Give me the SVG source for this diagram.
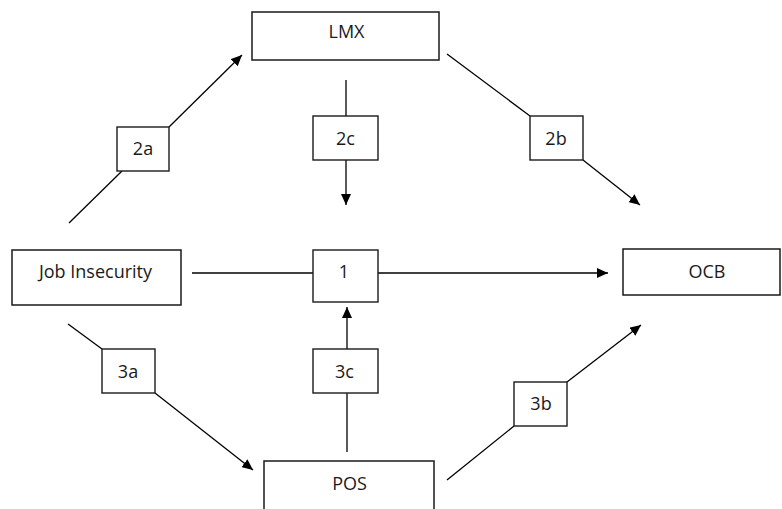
<svg xmlns="http://www.w3.org/2000/svg" width="782" height="509" viewBox="0 0 782 509">
<style>
.box{fill:#fff;stroke:#1a1a1a;stroke-width:1.5}
.lbl{fill:#fff;stroke:#1a1a1a;stroke-width:1.4}
.t{font-family:"Open Sans","Liberation Sans",sans-serif;font-size:18px;fill:#1a1a1a;text-anchor:middle}
.c{stroke:#000;stroke-width:1.3;fill:none}
.a{marker-end:url(#ah)}
</style>
<defs>
<marker id="ah" markerUnits="userSpaceOnUse" markerWidth="12" markerHeight="10" refX="11" refY="5" orient="auto">
<path d="M0,0 L11,5 L0,10 z" fill="#000"/>
</marker>
</defs>
<rect width="782" height="509" fill="#fff"/>
<g id="connectors">
<line class="c" x1="69" y1="223" x2="122" y2="171"/>
<line class="c a" x1="169" y1="127" x2="242" y2="55"/>
<line class="c" x1="346" y1="80" x2="346" y2="116"/>
<line class="c a" x1="346" y1="160" x2="346" y2="205"/>
<line class="c" x1="447" y1="54" x2="530" y2="116"/>
<line class="c a" x1="583" y1="160" x2="640" y2="205"/>
<line class="c" x1="192" y1="273" x2="313" y2="273"/>
<line class="c a" x1="378" y1="273" x2="608" y2="273"/>
<line class="c" x1="68" y1="324" x2="102" y2="349"/>
<line class="c a" x1="155" y1="393" x2="253" y2="470"/>
<line class="c" x1="347" y1="452" x2="347" y2="393"/>
<line class="c a" x1="347" y1="349" x2="347" y2="307"/>
<line class="c" x1="447" y1="480" x2="514" y2="426"/>
<line class="c a" x1="567" y1="382" x2="641" y2="325"/>
</g>
<g id="lmx"><rect class="box" x="252" y="12" width="187" height="48"/><text class="t" x="346.5" y="38">LMX</text></g>
<g id="job-insecurity"><rect class="box" x="12" y="250" width="169" height="55"/><text class="t" x="95.5" y="278">Job Insecurity</text></g>
<g id="ocb"><rect class="box" x="623" y="249" width="157" height="46"/><text class="t" x="707" y="278">OCB</text></g>
<g id="pos"><rect class="box" x="264" y="461" width="170" height="60"/><text class="t" x="349.5" y="490">POS</text></g>
<g id="label-1"><rect class="lbl" x="313" y="250" width="65" height="52"/><text class="t" x="344" y="278">1</text></g>
<g id="label-2a"><rect class="lbl" x="117" y="127" width="52" height="44"/><text class="t" x="143" y="155">2a</text></g>
<g id="label-2c"><rect class="lbl" x="313" y="116" width="65" height="44"/><text class="t" x="345.5" y="145">2c</text></g>
<g id="label-2b"><rect class="lbl" x="530" y="116" width="53" height="44"/><text class="t" x="556" y="145">2b</text></g>
<g id="label-3a"><rect class="lbl" x="102" y="349" width="53" height="44"/><text class="t" x="128" y="378">3a</text></g>
<g id="label-3c"><rect class="lbl" x="313" y="349" width="65" height="44"/><text class="t" x="344.5" y="378">3c</text></g>
<g id="label-3b"><rect class="lbl" x="514" y="382" width="53" height="44"/><text class="t" x="541" y="410">3b</text></g>
</svg>
